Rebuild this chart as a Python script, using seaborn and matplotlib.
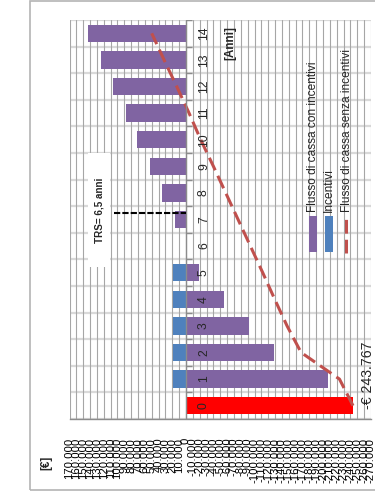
import numpy as np
import pandas as pd
import matplotlib
matplotlib.use("Agg")
import matplotlib.pyplot as plt
import seaborn as sns
from matplotlib.patches import Rectangle
from matplotlib.lines import Line2D

# Anni di esercizio e flussi di cassa cumulati [€]
anni = list(range(15))
flusso_con_incentivi = [-243767, -207700, -129000, -92000, -55500, -19500, -1500,
                        16500, 34600, 52600, 71000, 88000, 106000, 124500, 142600]
anni_incentivi = [1, 2, 3, 4, 5]
incentivi = [18700, 18700, 18700, 18700, 18700]
flusso_senza_incentivi = [-243767, -224000, -168000, -147500, -129500, -112000, -94000,
                          -76000, -58000, -40000, -21500, -4500, 13500, 32000, 50000]
tick_valori = list(range(170000, -270001, -10000))
tick_etichette = [f"{v:,.0f}".replace(",", ".") for v in tick_valori]
etichetta_investimento = "-€ 243.767"
etichetta_trs = "TRS= 6,5 anni"
trs_posizione = 7.25
trs_inizio = 105000
legenda = ["Flusso di cassa con incentivi", "Incentivi", "Flusso di cassa senza incentivi"]

VIOLA = "#8064A2"
BLU = "#4F81BD"
ROSSO_LINEA = "#C0504D"
ROSSO_BARRA = "#FF0000"
GRIGIO = "#8C8C8C"

sns.set_theme(style="white")
plt.rcParams["font.family"] = ["Liberation Sans", "DejaVu Sans"]

W, H = 375, 495
fig = plt.figure(figsize=(W / 100, H / 100), dpi=100)
fig.patch.set_facecolor("white")


def fx(x):
    return x / W


def fy(y):
    return 1 - y / H


# bordo dell'area del grafico
fig.patches.append(Rectangle((fx(30.5), fy(490)), 1.2, fy(1) - fy(490),
                             transform=fig.transFigure, fill=False,
                             edgecolor="#B4B4B4", lw=1.2, zorder=0))

ax = fig.add_axes([fx(69.5), fy(419), fx(371) - fx(69.5), fy(20) - fy(419)])
ax.set_facecolor("white")

df = pd.DataFrame({"anno": anni, "con": flusso_con_incentivi, "senza": flusso_senza_incentivi})
df_inc = pd.DataFrame({"anno": anni_incentivi, "inc": incentivi})

sns.barplot(data=df, x="con", y="anno", orient="y", native_scale=True, color=VIOLA,
            width=0.66, errorbar=None, linewidth=0, saturation=1, ax=ax)
ax.patches[0].set_facecolor(ROSSO_BARRA)
sns.barplot(data=df_inc, x="inc", y="anno", orient="y", native_scale=True, color=BLU,
            width=0.66, errorbar=None, linewidth=0, saturation=1, ax=ax)
sns.lineplot(data=df, x="senza", y="anno", sort=False, estimator=None,
             color=ROSSO_LINEA, linewidth=2.2, linestyle=(0, (4.5, 2)), zorder=3, ax=ax)

ax.set_xlim(170000, -270000)
ax.set_ylim(-0.5, 14.5)
ax.set_xlabel("")
ax.set_ylabel("")
ax.set_yticks([])
ax.set_xticks(tick_valori)
ax.set_xticklabels(tick_etichette)
ax.tick_params(axis="x", length=4, width=1, color=GRIGIO, pad=9.5,
               labelsize=8.1, labelrotation=90, labelcolor="black")

for nome, sp in ax.spines.items():
    sp.set_visible(nome == "bottom")
ax.spines["bottom"].set_color(GRIGIO)
ax.spines["bottom"].set_linewidth(1)

# griglia
ax.set_axisbelow(True)
ax.xaxis.grid(True, color="#A6A6A6", lw=0.8)
ax.hlines(np.arange(-0.5, 15), 170000, -270000, color="#D9D9D9", lw=1.6, zorder=0.3)

# asse delle categorie sullo zero
ax.axvline(0, color=GRIGIO, lw=1, zorder=3)
ax.plot(np.zeros(16), np.arange(-0.5, 15), linestyle="none", marker=1,
        markersize=4.5, mew=1, color=GRIGIO, zorder=3)

for a in anni:
    ax.annotate(str(a), xy=(0, a), xytext=(18, 0), textcoords="offset pixels",
                rotation=90, ha="center", va="center", fontsize=8.7, zorder=4)

ax.annotate(etichetta_investimento, xy=(flusso_con_incentivi[0], 0), xytext=(15, -3),
            textcoords="offset pixels", rotation=90, ha="center", va="bottom",
            fontsize=10.2, zorder=4)

# tempo di ritorno semplice
ax.plot([trs_inizio, 0], [trs_posizione, trs_posizione], color="black", lw=1.5,
        linestyle=(0, (3, 1)), zorder=4)
fig.patches.append(Rectangle((fx(88), fy(267)), fx(110) - fx(88), fy(153) - fy(267),
                             transform=fig.transFigure, facecolor="white",
                             edgecolor="none", zorder=2))
fig.text(fx(99), fy(210), etichetta_trs, rotation=90, ha="center", va="center",
         fontsize=7.1, fontweight="bold", zorder=3)

fig.text(fx(46), fy(463), "[€]", rotation=90, ha="center", va="center",
         fontsize=8.5, fontweight="bold")
fig.text(fx(230), fy(43), "[Anni]", rotation=90, ha="center", va="center",
         fontsize=8.5, fontweight="bold")

# legenda
fig.patches.append(Rectangle((fx(308.5), fy(251.5)), fx(8), fy(216) - fy(251.5),
                             transform=fig.transFigure, facecolor=VIOLA, edgecolor="none", zorder=2))
fig.patches.append(Rectangle((fx(325), fy(251.5)), fx(8), fy(216) - fy(251.5),
                             transform=fig.transFigure, facecolor=BLU, edgecolor="none", zorder=2))
fig.lines.append(Line2D([fx(346), fx(346)], [fy(253), fy(216)], transform=fig.transFigure,
                        color=ROSSO_LINEA, lw=2.2, linestyle=(0, (4.5, 2)), zorder=2))
for xc, testo in zip([313, 329, 347], legenda):
    fig.text(fx(xc), fy(211.7), testo, rotation=90, ha="center", va="bottom",
             fontsize=8.6, zorder=3)

fig.savefig("out.png", dpi=100, facecolor="white")
